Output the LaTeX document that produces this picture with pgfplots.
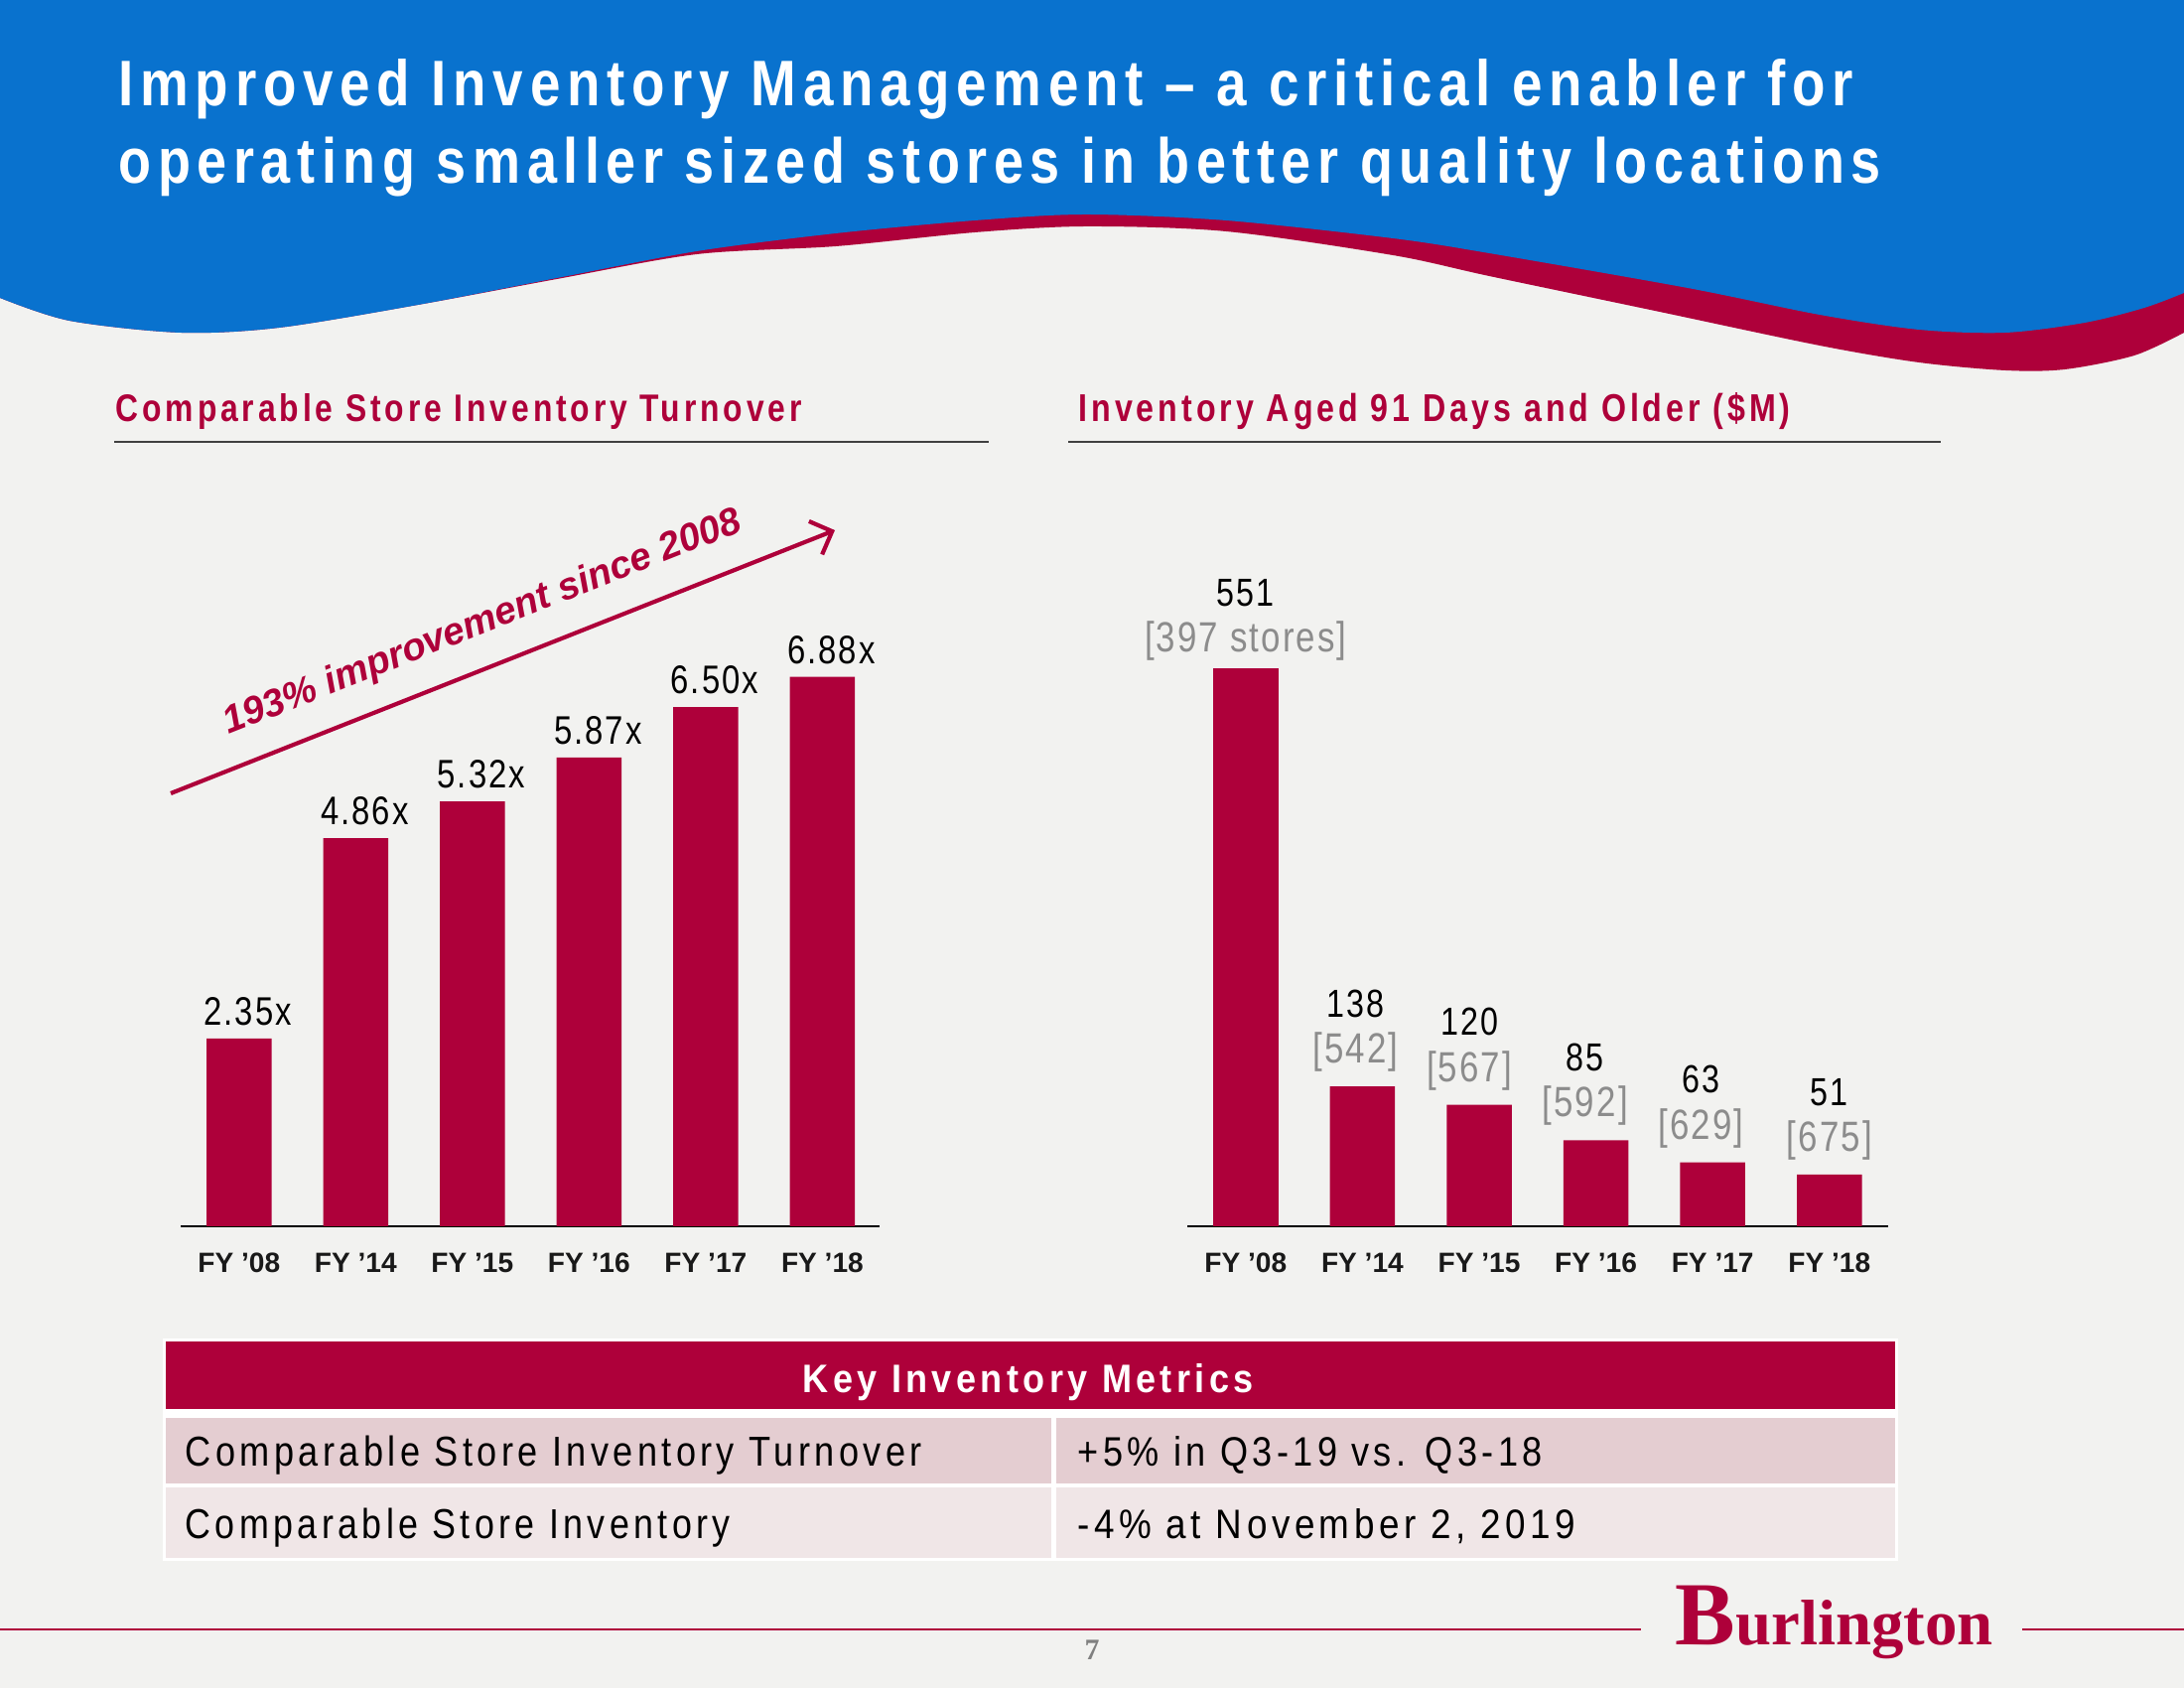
\documentclass[border=0pt]{standalone}
\usepackage{fontspec}
\setmainfont{Liberation Sans}
\newfontfamily\nar[FakeStretch=0.82,LetterSpace=10]{Liberation Sans}
\newfontfamily\narlab[FakeStretch=0.82,LetterSpace=5]{Liberation Sans}
\newfontfamily\logofont{Liberation Serif}
\usepackage{graphicx}
\usepackage{pgfplots}
\usepackage{pgfplotstable}
\pgfplotsset{compat=1.18}
\usetikzlibrary{arrows.meta}
\definecolor{bg}{RGB}{242,242,240}
\definecolor{blu}{RGB}{9,114,206}
\definecolor{crim}{RGB}{174,0,58}
\definecolor{rowa}{RGB}{228,205,209}
\definecolor{rowb}{RGB}{240,230,231}
\definecolor{labgray}{RGB}{140,140,140}

\pgfplotstableread{
x y
0 2.35
1 4.86
2 5.32
3 5.87
4 6.50
5 6.88
}\turntab

\pgfplotstableread{
x y s dx
0 551 397 0
}\agedA

\pgfplotstableread{
x y s dx
1 138 542 -2.0
2 120 567 -2.8
3 85 592 -3.1
4 63 629 -3.4
5 51 675 0
}\agedB

\begin{document}
\begin{tikzpicture}[x=1cm,y=1cm]
\useasboundingbox (0,0) rectangle (22,17);
\fill[bg] (0,0) rectangle (22,17);
% header waves
\fill[crim] (0,17) -- plot[smooth] coordinates {(0,14.00) (0.70,13.77) (1.82,13.65) (2.81,13.70) (4.21,13.93) (5.61,14.19) (7.02,14.44) (8.42,14.52) (9.82,14.66) (10.94,14.72) (12.35,14.67) (14.03,14.43) (15.00,14.22) (16.67,13.87) (18.33,13.52) (19.33,13.35) (20.20,13.27) (20.80,13.28) (21.50,13.42) (22.00,13.65)} -- (22,17) -- cycle;
\fill[blu] (0,17) -- plot[smooth] coordinates {(0,14.00) (0.70,13.77) (1.82,13.65) (2.81,13.70) (4.21,13.93) (5.61,14.20) (7.02,14.47) (8.42,14.65) (9.82,14.78) (10.94,14.84) (12.35,14.78) (14.03,14.60) (15.00,14.45) (17.00,14.10) (18.33,13.83) (19.33,13.68) (20.20,13.65) (21.00,13.75) (21.60,13.90) (22.00,14.05)} -- (22,17) -- cycle;
% title
\node[anchor=base west, inner sep=0pt, text=white] at (1.19,15.93) {\resizebox{17.47cm}{0.47cm}{\nar\bfseries Improved Inventory Management – a critical enabler for}};
\node[anchor=base west, inner sep=0pt, text=white] at (1.19,15.15) {\resizebox{17.75cm}{0.465cm}{\nar\bfseries operating smaller sized stores in better quality locations}};
% section headers
\node[anchor=base west, inner sep=0pt, text=crim] at (1.16,12.75) {\resizebox{6.91cm}{0.28cm}{\nar\bfseries Comparable Store Inventory Turnover}};
\node[anchor=base west, inner sep=0pt, text=crim] at (10.86,12.75) {\resizebox{7.17cm}{0.29cm}{\nar\bfseries Inventory Aged 91 Days and Older (\$M)}};
\draw[line width=0.015cm, black!75] (1.15,12.55) -- (9.96,12.55);
\draw[line width=0.015cm, black!75] (10.76,12.55) -- (19.55,12.55);
% arrow annotation
\draw[crim, line width=0.042cm, -{Straight Barb[length=0.18cm, width=0.36cm]}] (1.72,9.01) -- (8.41,11.66);
\node[rotate=21.6, anchor=base, inner sep=0pt, text=crim, font=\fontsize{11}{13}\selectfont\bfseries\itshape] at (4.90,10.63) {193\% improvement since 2008};

% left chart
\begin{axis}[
  at={(1.82cm,4.65cm)}, anchor=south west,
  scale only axis, width=7.04cm, height=6.436cm,
  xmin=-0.5, xmax=5.49, ymin=0, ymax=8, enlargelimits=false,
  axis y line=none, axis x line*=bottom,
  x axis line style={-, line width=0.015cm, black},
  xtick={0,1,2,3,4,5},
  xticklabels={FY ’08, FY ’14, FY ’15, FY ’16, FY ’17, FY ’18},
  major tick length=0pt,
  xticklabel style={font=\fontsize{8}{9.5}\selectfont\bfseries, anchor=base, inner sep=0pt, yshift=-0.47cm, text=black!90},
  ybar, bar width=0.655cm,
  /pgf/number format/assume math mode=true,
  nodes near coords={\pgfmathprintnumber[fixed,fixed zerofill,precision=2]{\pgfplotspointmeta}x},
  every node near coord/.append style={font=\narlab\fontsize{11.4}{13}\selectfont, text=black, anchor=south, inner sep=0pt, yshift=0.12cm, xshift=0.09cm},
  clip=false,
]
\addplot[fill=crim, draw=none] table[x=x,y=y] {\turntab};
\end{axis}

% right chart
\begin{axis}[
  at={(11.96cm,4.65cm)}, anchor=south west,
  scale only axis, width=7.056cm, height=6.63cm,
  xmin=-0.5, xmax=5.5, ymin=0, ymax=650, enlargelimits=false,
  axis y line=none, axis x line*=bottom,
  x axis line style={-, line width=0.015cm, black},
  xtick={0,1,2,3,4,5},
  xticklabels={FY ’08, FY ’14, FY ’15, FY ’16, FY ’17, FY ’18},
  major tick length=0pt,
  xticklabel style={font=\fontsize{8}{9.5}\selectfont\bfseries, anchor=base, inner sep=0pt, yshift=-0.47cm, text=black!90},
  ybar, bar width=0.655cm, bar shift=0pt,
  /pgf/number format/assume math mode=true,
  visualization depends on={\thisrow{s}\as\stores},
  visualization depends on={\thisrow{dx}\as\dxs},
  every node near coord/.append style={font=\narlab\fontsize{11.2}{13.2}\selectfont, text=black, anchor=south, align=center, inner sep=0pt, yshift=0.14cm, xshift=\dxs pt},
  clip=false,
]
\addplot[fill=crim, draw=none, bar shift=0pt,
  every node near coord/.append style={yshift=-0.07cm},
  nodes near coords={\pgfmathprintnumber{\pgfplotspointmeta}\\{\fontsize{12.1}{13.2}\selectfont\textcolor{labgray}{[\pgfmathprintnumber{\stores} stores]}}}]
  table[x=x,y=y] {\agedA};
\addplot[fill=crim, draw=none, bar shift=0pt,
  nodes near coords={\pgfmathprintnumber{\pgfplotspointmeta}\\{\fontsize{12.1}{13.2}\selectfont\textcolor{labgray}{[\pgfmathprintnumber{\stores}]}}}]
  table[x=x,y=y] {\agedB};
\end{axis}

% table
\fill[white] (1.64,1.28) rectangle (19.12,3.52);
\fill[crim] (1.67,2.81) rectangle (19.09,3.49);
\fill[rowa] (1.67,2.06) rectangle (10.59,2.72);
\fill[rowa] (10.64,2.06) rectangle (19.09,2.72);
\fill[rowb] (1.67,1.31) rectangle (10.59,2.02);
\fill[rowb] (10.64,1.31) rectangle (19.09,2.02);
\node[anchor=base west, inner sep=0pt, text=white] at (8.08,2.98) {\resizebox{4.54cm}{0.29cm}{\nar\bfseries Key Inventory Metrics}};
\node[anchor=base west, inner sep=0pt, text=black] at (1.86,2.24) {\resizebox{7.42cm}{0.305cm}{\nar Comparable Store Inventory Turnover}};
\node[anchor=base west, inner sep=0pt, text=black] at (10.85,2.24) {\resizebox{4.68cm}{0.30cm}{\nar +5\% in Q3-19 vs. Q3-18}};
\node[anchor=base west, inner sep=0pt, text=black] at (1.86,1.51) {\resizebox{5.49cm}{0.305cm}{\nar Comparable Store Inventory}};
\node[anchor=base west, inner sep=0pt, text=black] at (10.85,1.51) {\resizebox{5.01cm}{0.30cm}{\nar -4\% at November 2, 2019}};

% footer
\draw[crim, line width=0.02cm] (0,0.59) -- (16.53,0.59);
\draw[crim, line width=0.02cm] (20.37,0.59) -- (22,0.59);
\node[anchor=base, inner sep=0pt, text=black!50, font=\logofont\bfseries\fontsize{8.5}{10}\selectfont] at (11.00,0.29) {7};
\node[anchor=base west, inner sep=0pt, text=crim] at (16.87,0.44) {\resizebox{3.20cm}{!}{\logofont\bfseries{\fontsize{14}{14}\selectfont B}urlington}};
\end{tikzpicture}
\end{document}
